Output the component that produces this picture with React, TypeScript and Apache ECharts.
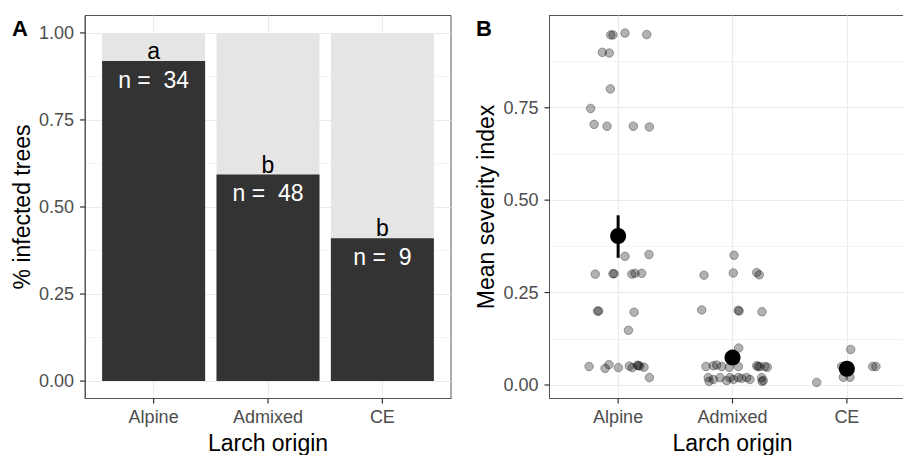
import React, { useEffect, useRef } from "react";
import * as echarts from "echarts";

// ---- Panel A data ----
const categories = ["Alpine", "Admixed", "CE"];
const infectedShare = [0.919, 0.593, 0.41];
const totalShare = [1, 1, 1];
const sampleSizes = [34, 48, 9];
const groupLetters = ["a", "b", "b"];

// ---- Panel B data (jitter offsets) ----
const alpineOffset = [-0.065, -0.045, 0.06, 0.25, -0.138, -0.077, -0.068, -0.24, -0.21, -0.097, 0.133, 0.273,
  0.06, 0.27, -0.2, -0.045, -0.035, 0.12, 0.148, 0.206, -0.18, -0.17, 0.14, 0.09,
  -0.254, -0.114, -0.08, 0.002, 0.098, 0.124, 0.17, 0.175, 0.19, 0.226, 0.273];
const alpineSeverity = [0.947, 0.947, 0.952, 0.948, 0.9, 0.898, 0.801, 0.748, 0.705, 0.7, 0.7, 0.698,
  0.348, 0.353, 0.3, 0.301, 0.301, 0.3, 0.302, 0.302, 0.2, 0.2, 0.197, 0.148,
  0.05, 0.045, 0.055, 0.047, 0.051, 0.047, 0.053, 0.053, 0.051, 0.048, 0.02];
const admixedOffset = [0.013, -0.249, 0.007, 0.212, 0.234, -0.269, 0.05, 0.058, 0.258, 0.054,
  -0.232, -0.168, -0.138, -0.094, -0.028, 0.051, 0.212, 0.223, 0.24, 0.284, 0.304,
  -0.212, -0.205, -0.168, -0.109, -0.051, -0.022, 0.007, 0.051, 0.08, 0.124, 0.153, 0.255, 0.269, 0.258];
const admixedSeverity = [0.351, 0.297, 0.303, 0.304, 0.298, 0.203, 0.202, 0.2, 0.198, 0.1,
  0.05, 0.052, 0.054, 0.05, 0.048, 0.05, 0.052, 0.05, 0.05, 0.05, 0.048,
  0.02, 0.01, 0.015, 0.02, 0.012, 0.02, 0.015, 0.02, 0.018, 0.02, 0.015, 0.02, 0.012, 0.01];
const ceOffset = [0.033, -0.045, -0.031, 0.027, -0.264, 0.226, 0.254, 0.01];
const ceSeverity = [0.096, 0.05, 0.021, 0.021, 0.007, 0.05, 0.05, 0.045];

const meanSeverity = [0.403, 0.074, 0.044];
const seLow = [0.344, 0.062, 0.034];
const seHigh = [0.459, 0.086, 0.054];

const xTicks = [0, 1, 2];
const yTicksA = [0, 0.25, 0.5, 0.75, 1];
const yTicksB = [0, 0.25, 0.5, 0.75];
const yMinor = [0.125, 0.375, 0.625, 0.875];

// axis ranges (ggplot expansions)
const xRange = [-0.6, 2.6];
const yRangeA = [-0.05, 1.05];
const yRangeB = [-0.0366, 0.9995];

const FONT = "Liberation Sans, Arial, Helvetica, sans-serif";
const TICK_LEN = 5;

export default function App() {
  const ref = useRef<HTMLDivElement>(null);
  useEffect(() => {
    if (!ref.current) return;
    const chart = echarts.init(ref.current, null, { renderer: "svg" });

    const groups = [
      { off: alpineOffset, sev: alpineSeverity },
      { off: admixedOffset, sev: admixedSeverity },
      { off: ceOffset, sev: ceSeverity },
    ];
    const pointData: number[][] = [];
    groups.forEach((g, gi) => g.off.forEach((o, k) => pointData.push([gi + o, g.sev[k]])));

    const xAxisFor = (gridIndex: number) => ({
      gridIndex,
      type: "value",
      min: xRange[0],
      max: xRange[1],
      position: "bottom",
      axisLine: { show: true, onZero: false, lineStyle: { color: "#555", width: 1 } },
      axisTick: { show: false, customValues: xTicks },
      axisLabel: {
        customValues: xTicks,
        formatter: (v: number) => categories[Math.round(v)] ?? "",
        color: "#4d4d4d",
        fontSize: 18,
        margin: 9,
        fontFamily: FONT,
      },
      splitLine: { show: true, lineStyle: { color: "#ebebeb", width: 1.1 } },
      name: "Larch origin",
      nameLocation: "middle",
      nameGap: 33,
      nameTextStyle: { fontSize: 23, color: "#000", fontFamily: FONT },
    });

    const yAxisFor = (gridIndex: number, range: number[], ticks: number[], name: string) => ({
      gridIndex,
      type: "value",
      min: range[0],
      max: range[1],
      position: "left",
      axisLine: { show: true, onZero: false, lineStyle: { color: "#555", width: 1 } },
      axisTick: { show: false, customValues: ticks },
      axisLabel: {
        customValues: ticks,
        formatter: (v: number) => v.toFixed(2),
        color: "#4d4d4d",
        fontSize: 18,
        margin: 11,
        fontFamily: FONT,
      },
      splitLine: { show: true, lineStyle: { color: "#ebebeb", width: 1.1 } },
      name,
      nameLocation: "middle",
      nameGap: 52,
      nameTextStyle: { fontSize: 23, color: "#000", fontFamily: FONT },
    });

    const minorAxisFor = (gridIndex: number, range: number[]) => ({
      gridIndex,
      type: "value",
      min: range[0],
      max: range[1],
      position: "right",
      axisLine: { show: false, onZero: false },
      axisTick: { show: false, customValues: yMinor },
      axisLabel: { show: false, customValues: yMinor },
      splitLine: { show: true, lineStyle: { color: "#ebebeb", width: 0.6 } },
    });

    // tick marks drawn through the axes' own scales
    const yTickSeries = (gridIndex: number, ticks: number[]) => ({
      type: "custom",
      xAxisIndex: gridIndex,
      yAxisIndex: gridIndex,
      clip: false,
      silent: true,
      data: ticks.map((v) => [xRange[0], v]),
      encode: { x: 0, y: 1 },
      renderItem: (params: any, api: any) => {
        const p = api.coord([api.value(0), api.value(1)]);
        return {
          type: "line",
          shape: { x1: p[0] - TICK_LEN, y1: p[1], x2: p[0], y2: p[1] },
          style: { stroke: "#333", lineWidth: 1.2 },
        };
      },
      z: 5,
    });
    const xTickSeries = (gridIndex: number, yMin: number) => ({
      type: "custom",
      xAxisIndex: gridIndex,
      yAxisIndex: gridIndex,
      clip: false,
      silent: true,
      data: xTicks.map((v) => [v, yMin]),
      encode: { x: 0, y: 1 },
      renderItem: (params: any, api: any) => {
        const p = api.coord([api.value(0), api.value(1)]);
        return {
          type: "line",
          shape: { x1: p[0], y1: p[1], x2: p[0], y2: p[1] + TICK_LEN },
          style: { stroke: "#333", lineWidth: 1.2 },
        };
      },
      z: 5,
    });

    const gridBase = {
      top: 15.5,
      width: 366,
      height: 383,
      show: true,
      borderColor: "#555",
      borderWidth: 1,
      containLabel: false,
      outerBoundsMode: "none",
    };

    const option: any = {
      animation: false,
      textStyle: { fontFamily: FONT },
      grid: [
        { ...gridBase, left: 85 },
        { ...gridBase, left: 549.5 },
      ],
      xAxis: [xAxisFor(0), xAxisFor(1)],
      yAxis: [
        yAxisFor(0, yRangeA, yTicksA, "% infected trees"),
        yAxisFor(1, yRangeB, yTicksB, "Mean severity index"),
        minorAxisFor(0, yRangeA),
        minorAxisFor(1, yRangeB),
      ],
      graphic: [
        { type: "text", left: 12, top: 17, style: { text: "A", font: `bold 22px ${FONT}`, fill: "#000" } },
        { type: "text", left: 476, top: 17, style: { text: "B", font: `bold 22px ${FONT}`, fill: "#000" } },
      ],
      series: [
        {
          type: "bar",
          xAxisIndex: 0,
          yAxisIndex: 0,
          barWidth: 103,
          barGap: "-100%",
          itemStyle: { color: "#e5e5e5" },
          data: totalShare.map((v, i) => [i, v]),
          z: 1,
        },
        {
          type: "bar",
          xAxisIndex: 0,
          yAxisIndex: 0,
          barWidth: 103,
          barGap: "-100%",
          itemStyle: { color: "#333333" },
          data: infectedShare.map((v, i) => [i, v]),
          label: {
            show: true,
            position: "insideTop",
            distance: 7,
            formatter: (p: any) => `n =  ${sampleSizes[p.dataIndex]}`,
            color: "#fff",
            fontSize: 23,
            fontFamily: FONT,
          },
          z: 2,
        },
        {
          type: "scatter",
          xAxisIndex: 0,
          yAxisIndex: 0,
          symbolSize: 1,
          itemStyle: { color: "rgba(0,0,0,0)", opacity: 1 },
          data: infectedShare.map((v, i) => [i, v]),
          label: {
            show: true,
            position: "top",
            distance: -2,
            formatter: (p: any) => groupLetters[p.dataIndex],
            color: "#000",
            fontSize: 23,
            fontFamily: FONT,
          },
          z: 3,
        },
        {
          type: "scatter",
          xAxisIndex: 1,
          yAxisIndex: 1,
          symbolSize: 8.5,
          itemStyle: { color: "rgba(0,0,0,0.3)", borderColor: "rgba(0,0,0,0.32)", borderWidth: 1, opacity: 1 },
          data: pointData,
          z: 2,
        },
        {
          type: "custom",
          xAxisIndex: 1,
          yAxisIndex: 1,
          data: meanSeverity.map((_, i) => [i, seLow[i], seHigh[i]]),
          encode: { x: 0, y: [1, 2] },
          renderItem: (params: any, api: any) => {
            const x = api.value(0);
            const a = api.coord([x, api.value(1)]);
            const b = api.coord([x, api.value(2)]);
            return {
              type: "line",
              shape: { x1: a[0], y1: a[1], x2: b[0], y2: b[1] },
              style: { stroke: "#000", lineWidth: 3 },
            };
          },
          z: 3,
        },
        {
          type: "scatter",
          xAxisIndex: 1,
          yAxisIndex: 1,
          symbolSize: 16,
          itemStyle: { color: "#000", opacity: 1 },
          data: meanSeverity.map((v, i) => [i, v]),
          z: 4,
        },
        yTickSeries(0, yTicksA),
        yTickSeries(1, yTicksB),
        xTickSeries(0, yRangeA[0]),
        xTickSeries(1, yRangeB[0]),
      ],
    };
    chart.setOption(option);
    return () => chart.dispose();
  }, []);

  return (
    <div
      ref={ref}
      style={{ position: "fixed", left: 0, top: 0, width: 903, height: 455, background: "#fff" }}
    />
  );
}
